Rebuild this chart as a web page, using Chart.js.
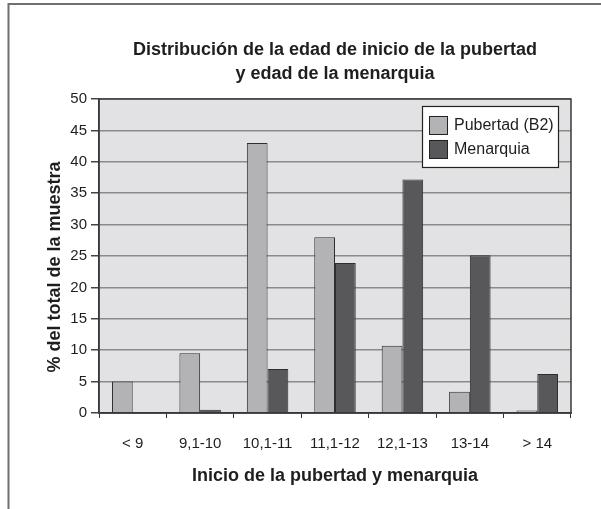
<!DOCTYPE html>
<html><head><meta charset="utf-8">
<script src="https://cdn.jsdelivr.net/npm/chart.js@4.4.0/dist/chart.umd.min.js"></script>
<style>html,body{margin:0;padding:0;background:#fff;overflow:hidden;}</style>
</head><body>
<canvas id="c" width="601" height="509" style="display:block;width:601px;height:509px"></canvas>
<script>
const categories = ['< 9', '9,1-10', '10,1-11', '11,1-12', '12,1-13', '13-14', '> 14'];
const seriesNames = ['Pubertad (B2)', 'Menarquia'];
const pubertad = [5, 9.5, 43, 28, 10.7, 3.4, 0.4];
const menarquia = [0, 0.5, 7, 23.9, 37.2, 25.1, 6.2];
const titleLines = ['Distribución de la edad de inicio de la pubertad', 'y edad de la menarquia'];
const xTitle = 'Inicio de la pubertad y menarquia';
const yTitle = '% del total de la muestra';

const FONT = '"Liberation Sans", Arial, Helvetica, sans-serif';
const TXT = '#1e1e1e';

const framePlugin = {
  id: 'frame',
  beforeDraw(chart) {
    const {ctx, chartArea: a} = chart;
    ctx.save();
    ctx.fillStyle = '#fff';
    ctx.fillRect(0, 0, chart.width, chart.height);
    ctx.strokeStyle = '#707070';
    ctx.lineWidth = 2;
    ctx.beginPath();
    ctx.moveTo(8.5, chart.height);
    ctx.lineTo(8.5, 4);
    ctx.lineTo(chart.width, 4);
    ctx.stroke();
    ctx.fillStyle = '#e2e2e4';
    ctx.fillRect(a.left, a.top, a.right - a.left, a.bottom - a.top);
    ctx.restore();
  },
  afterDatasetsDraw(chart) {
    const {ctx, chartArea: a} = chart;
    ctx.save();
    ctx.strokeStyle = '#3a3a3a';
    ctx.lineWidth = 1.5;
    ctx.strokeRect(a.left, a.top, a.right - a.left, a.bottom - a.top);
    ctx.restore();
  }
};

const legendBoxPlugin = {
  id: 'legendBox',
  afterDraw(chart) {
    const {ctx, chartArea: a} = chart;
    const w = 136, h = 61;
    const x = a.right - 13 - w, y = a.top + 7;
    ctx.save();
    ctx.fillStyle = '#fff';
    ctx.fillRect(x, y, w, h);
    ctx.strokeStyle = '#222';
    ctx.lineWidth = 1.2;
    ctx.strokeRect(x + 0.5, y + 0.5, w, h);
    ctx.font = '16px ' + FONT;
    ctx.textBaseline = 'middle';
    chart.data.datasets.forEach((ds, i) => {
      const cy = y + 19 + i * 24;
      ctx.fillStyle = ds.backgroundColor;
      ctx.fillRect(x + 7, cy - 9, 19, 19);
      ctx.strokeStyle = '#222';
      ctx.lineWidth = 1;
      ctx.strokeRect(x + 7.5, cy - 8.5, 18, 18);
      ctx.fillStyle = TXT;
      ctx.fillText(ds.label, x + 32, cy + 1);
    });
    ctx.restore();
  }
};

// Custom y-title drawing so it can sit slightly below the plot centre, as in the reference
const yTitlePlugin = {
  id: 'yTitle',
  afterDraw(chart) {
    const {ctx, chartArea: a} = chart;
    ctx.save();
    ctx.translate(55, (a.top + a.bottom) / 2 + 11);
    ctx.rotate(-Math.PI / 2);
    ctx.font = 'bold 18px ' + FONT;
    ctx.fillStyle = TXT;
    ctx.textAlign = 'center';
    ctx.textBaseline = 'middle';
    ctx.fillText(yTitle, 0, 0);
    ctx.restore();
  }
};

new Chart(document.getElementById('c'), {
  type: 'bar',
  data: {
    labels: categories,
    datasets: [
      {label: seriesNames[0], data: pubertad, backgroundColor: '#b3b3b5', borderColor: '#2e2e2e', borderWidth: 1, borderSkipped: 'bottom'},
      {label: seriesNames[1], data: menarquia, backgroundColor: '#58585a', borderColor: '#2e2e2e', borderWidth: 1, borderSkipped: 'bottom'}
    ]
  },
  options: {
    responsive: false,
    devicePixelRatio: 1,
    animation: false,
    layout: {padding: {left: 44, right: 30, top: 0, bottom: 22}},
    datasets: {bar: {categoryPercentage: 0.615, barPercentage: 1.0}},
    plugins: {
      legend: {display: false},
      tooltip: {enabled: false},
      title: {
        display: true,
        fullSize: false,
        text: titleLines,
        color: TXT,
        font: {family: FONT, size: 18, weight: 'bold', lineHeight: 1.333},
        padding: {top: 38.5, bottom: 12.5}
      }
    },
    scales: {
      x: {
        grid: {display: true, drawOnChartArea: false, drawTicks: true, tickLength: 5, tickColor: '#333', offset: true},
        border: {display: true, color: '#333', width: 1.5},
        ticks: {color: TXT, font: {family: FONT, size: 15}, padding: 17, maxRotation: 0, autoSkip: false},
        title: {display: true, text: xTitle, color: TXT, font: {family: FONT, size: 18, weight: 'bold'}, padding: 0},
        afterFit(s) { s.height = 74; }
      },
      y: {
        min: 0, max: 50,
        ticks: {stepSize: 5, color: TXT, font: {family: FONT, size: 15}, padding: 4},
        grid: {color: '#8a8a8a', lineWidth: 1.5, tickLength: 8, tickColor: '#444'},
        border: {display: true, color: '#333', width: 1.5},
        title: {display: false},
        afterFit(s) { s.width = 55; }
      }
    }
  },
  plugins: [framePlugin, legendBoxPlugin, yTitlePlugin]
});
</script>
</body></html>
